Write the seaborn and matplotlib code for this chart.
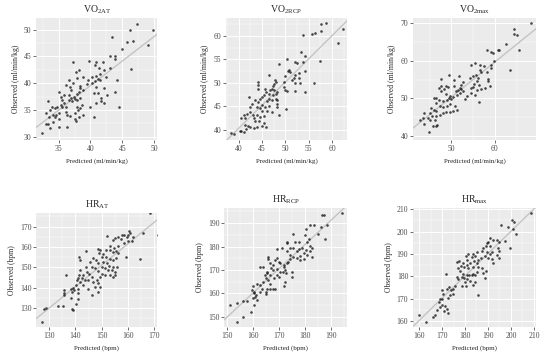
import matplotlib
matplotlib.use('Agg')
import matplotlib.pyplot as plt
from matplotlib.ticker import AutoMinorLocator, MultipleLocator
import seaborn as sns

# (predicted, observed) pairs, one list per panel
vo2at_points = [
    (47.3, 51.1), (49.8, 49.9), (46.2, 49.9), (46.7, 47.8), (45.8, 47.6), (49.1, 47.2),
    (43.4, 48.6), (44.9, 46.3), (43.8, 45.0), (43.8, 44.5), (43.0, 45.1), (41.9, 43.9),
    (43.0, 42.9), (46.3, 42.7), (40.9, 43.9), (39.8, 44.2), (40.7, 43.4), (41.3, 42.8),
    (42.1, 42.4), (42.4, 41.1), (41.5, 41.75), (40.9, 41.25), (41.2, 40.8), (41.5, 40.6),
    (40.7, 40.4), (40.2, 41.1), (40.2, 40.0), (39.6, 40.6), (39.4, 39.9), (40.9, 39.25),
    (40.5, 38.1), (42.1, 39.1), (42.6, 37.8), (44.2, 40.6), (43.9, 38.4), (44.5, 35.6),
    (42.1, 36.25), (41.6, 36.6), (40.8, 36.25), (40.0, 35.6), (40.5, 33.75), (37.2, 43.9),
    (38.2, 42.5), (37.8, 42.0), (38.8, 41.1), (37.9, 40.9), (36.6, 40.6), (36.1, 39.7),
    (37.3, 40.0), (36.8, 39.25), (38.4, 39.5), (38.4, 39.1), (38.8, 38.75), (38.2, 38.4),
    (37.9, 38.0), (37.0, 38.75), (36.7, 37.8), (37.4, 37.5), (37.6, 37.1), (37.0, 37.2),
    (36.6, 36.9), (37.1, 36.6), (37.9, 36.9), (38.4, 37.2), (38.7, 35.9), (38.4, 35.3),
    (38.1, 35.0), (37.6, 34.4), (35.8, 37.8), (35.3, 37.5), (35.0, 38.4), (35.5, 36.9),
    (35.8, 36.25), (35.3, 35.9), (34.8, 35.6), (35.5, 35.6), (36.1, 35.6), (34.5, 35.3),
    (35.0, 34.4), (34.6, 34.1), (34.5, 33.6), (35.0, 33.4), (34.2, 34.1), (34.0, 35.5),
    (33.3, 36.6), (33.7, 35.0), (33.1, 34.4), (33.5, 33.75), (34.2, 32.8), (33.4, 32.4),
    (33.0, 32.4), (33.6, 31.6), (32.4, 30.75), (35.0, 31.9), (36.3, 31.9), (36.8, 33.9),
    (37.6, 33.4), (37.8, 33.0), (38.2, 33.75), (38.9, 34.1), (37.9, 35.6), (36.1, 34.7),
    (36.3, 34.1), (41.2, 38.1), (41.7, 37.2),
]

vo2rcp_points = [
    (58.6, 62.7), (57.7, 62.4), (57.6, 61.1), (62.3, 61.4), (56.4, 60.6), (55.6, 60.4),
    (53.7, 60.1), (61.2, 58.4), (53.4, 56.5), (54.1, 55.8), (50.4, 55.0), (52.1, 54.5),
    (52.5, 54.3), (53.7, 54.5), (48.7, 54.0), (57.4, 54.7), (50.7, 52.7), (50.9, 52.4),
    (50.6, 52.6), (54.3, 52.5), (53.0, 52.1), (52.1, 51.6), (52.9, 51.1), (51.8, 51.1),
    (46.4, 51.6), (51.4, 50.6), (49.9, 51.4), (49.8, 50.2), (52.1, 50.0), (56.1, 50.0),
    (53.2, 50.0), (49.6, 49.1), (50.0, 48.4), (52.1, 48.3), (50.4, 48.3), (54.3, 48.1),
    (44.1, 50.2), (44.1, 49.6), (44.1, 48.8), (45.6, 48.8), (47.7, 50.7), (47.9, 50.2),
    (47.5, 49.7), (47.4, 49.3), (47.1, 48.8), (46.8, 48.6), (47.5, 48.4), (48.2, 48.1),
    (47.9, 47.7), (47.4, 47.5), (46.4, 47.7), (45.9, 48.1), (45.0, 47.0), (45.4, 47.4),
    (44.6, 46.6), (46.4, 46.6), (47.1, 46.3), (47.9, 46.6), (48.2, 46.3), (46.1, 46.1),
    (45.0, 45.4), (44.1, 45.9), (43.4, 46.3), (42.9, 45.6), (42.5, 44.9), (42.3, 47.0),
    (43.9, 44.9), (44.5, 44.7), (45.0, 44.1), (45.7, 44.9), (46.4, 45.0), (48.2, 44.9),
    (48.2, 45.6), (50.1, 44.4), (48.6, 43.1), (47.1, 43.8), (46.1, 44.1), (42.5, 43.8),
    (41.8, 43.4), (41.1, 43.1), (41.4, 42.6), (40.6, 42.6), (43.1, 43.1), (43.9, 43.1),
    (43.2, 42.5), (44.6, 42.7), (45.4, 42.9), (44.3, 42.0), (43.6, 41.9), (45.4, 41.4),
    (45.9, 40.7), (45.0, 40.9), (43.9, 40.7), (43.2, 40.4), (42.5, 40.7), (41.9, 40.9),
    (41.4, 41.1), (41.6, 40.2), (40.6, 39.9), (41.1, 39.5), (40.2, 39.9), (38.4, 39.4),
    (39.1, 39.1),
]

vo2max_points = [
    (68.2, 70.0), (64.4, 68.6), (64.5, 67.2), (65.0, 66.8), (62.5, 64.6), (65.6, 63.0),
    (58.1, 62.8), (59.2, 62.5), (59.6, 62.0), (60.6, 63.0), (61.0, 62.9), (63.5, 57.5),
    (59.8, 59.9), (59.0, 58.8), (59.0, 58.0), (55.4, 59.5), (54.6, 58.8), (56.5, 59.0),
    (57.5, 58.6), (56.5, 57.7), (56.9, 57.0), (58.1, 57.1), (58.5, 54.6), (58.8, 53.4),
    (58.5, 55.3), (57.7, 52.8), (56.2, 55.4), (55.6, 56.3), (55.0, 55.9), (54.2, 55.4),
    (55.8, 54.6), (55.2, 53.9), (56.4, 53.7), (56.7, 52.5), (55.8, 52.3), (55.0, 53.0),
    (54.4, 52.8), (55.4, 51.0), (56.3, 48.9), (54.6, 51.4), (53.5, 50.5), (53.1, 49.8),
    (52.2, 53.5), (51.9, 52.8), (51.5, 52.3), (51.0, 52.1), (52.3, 52.5), (52.7, 51.9),
    (51.9, 51.4), (51.2, 51.0), (49.5, 56.3), (47.7, 55.2), (50.5, 55.0), (48.8, 53.4),
    (47.7, 53.2), (47.2, 52.8), (48.2, 52.5), (49.2, 53.0), (50.6, 53.4), (47.7, 51.9),
    (48.7, 51.2), (49.6, 50.7), (49.5, 50.1), (50.0, 49.8), (50.4, 50.3), (49.0, 49.6),
    (48.1, 49.2), (47.2, 49.5), (46.5, 50.1), (45.9, 50.1), (46.4, 48.8), (47.3, 48.0),
    (48.1, 47.7), (49.0, 47.9), (49.8, 48.6), (50.8, 48.0), (51.3, 46.8), (50.4, 46.5),
    (49.6, 46.3), (48.7, 46.3), (48.1, 46.1), (47.3, 45.6), (46.5, 46.5), (45.9, 47.0),
    (45.4, 47.4), (45.0, 46.1), (45.5, 45.2), (46.4, 45.4), (44.6, 44.7), (45.1, 44.3),
    (46.2, 44.1), (46.7, 42.9), (45.8, 42.7), (46.5, 42.5), (43.8, 46.1), (43.5, 44.7),
    (42.7, 44.3), (43.8, 43.2), (44.8, 40.9), (51.8, 55.9), (52.7, 54.3),
]

hrat_points = [
    (168.5, 176.6), (171.5, 165.9), (165.5, 167.0), (157.6, 165.9), (158.6, 165.9),
    (160.1, 165.9), (157.2, 163.7), (155.1, 164.2), (160.1, 163.1), (158.5, 161.8),
    (161.4, 162.9), (161.8, 164.7), (160.5, 168.0), (160.8, 167.0), (159.5, 165.1),
    (159.2, 154.8), (164.5, 154.0), (156.3, 164.7), (154.4, 163.4), (151.9, 165.4),
    (153.2, 160.4), (154.7, 159.3), (153.2, 158.5), (151.6, 158.5), (154.2, 157.6),
    (155.4, 158.1), (156.3, 160.4), (156.1, 156.8), (155.4, 154.3), (154.4, 153.5),
    (153.2, 153.9), (151.6, 155.2), (150.4, 156.5), (149.4, 158.5), (148.4, 158.8),
    (149.1, 157.1), (150.0, 155.2), (150.6, 152.7), (151.9, 151.9), (152.9, 150.6),
    (154.4, 149.9), (155.7, 149.9), (155.1, 147.8), (153.9, 148.6), (152.5, 148.6),
    (151.3, 149.4), (150.0, 150.2), (148.7, 151.9), (147.7, 153.5), (146.8, 154.7),
    (145.6, 152.7), (146.2, 150.2), (147.5, 149.4), (148.7, 148.3), (150.0, 146.9),
    (151.3, 146.1), (153.2, 146.1), (155.1, 146.1), (154.4, 145.3), (149.4, 145.0),
    (148.1, 143.6), (146.2, 145.3), (145.3, 146.9), (144.1, 149.9), (144.3, 147.8),
    (143.0, 146.1), (142.4, 144.5), (143.7, 143.6), (144.9, 143.6), (146.8, 142.8),
    (148.7, 142.0), (147.5, 140.3), (149.4, 140.3), (148.7, 137.9), (146.2, 136.2),
    (144.6, 139.5), (143.0, 141.1), (141.8, 142.8), (141.1, 144.5), (141.5, 154.8),
    (141.8, 153.5), (141.8, 148.8), (141.5, 146.1), (144.1, 158.1), (140.5, 143.6),
    (140.3, 141.1), (140.8, 139.5), (139.5, 138.7), (139.2, 140.0), (138.2, 139.5),
    (138.6, 137.9), (140.8, 137.1), (138.2, 135.1), (141.1, 134.6), (140.3, 132.1),
    (138.6, 129.6), (139.2, 129.1), (135.8, 138.7), (135.8, 137.4), (135.8, 136.2),
    (136.3, 146.1), (133.5, 130.8), (135.2, 130.8), (128.1, 129.6), (128.7, 130.1),
    (127.2, 123.0),
]

hrrcp_points = [
    (194.2, 194.3), (187.2, 193.3), (186.5, 193.3), (183.6, 189.3), (182.1, 189.3),
    (188.5, 189.3), (186.2, 188.3), (184.9, 185.4), (187.8, 183.3), (180.5, 187.4),
    (180.1, 185.0), (175.6, 185.4), (177.6, 182.1), (176.3, 182.1), (180.8, 182.1),
    (181.4, 183.1), (182.1, 180.3), (182.7, 179.6), (182.1, 178.3), (180.5, 178.6),
    (178.8, 179.3), (177.9, 179.0), (176.9, 178.3), (175.6, 179.3), (174.4, 179.3),
    (173.1, 178.3), (173.1, 182.1), (173.3, 181.4), (171.2, 179.3), (169.2, 179.0),
    (174.4, 176.4), (175.6, 175.4), (176.9, 175.0), (178.2, 176.0), (179.7, 177.1),
    (180.8, 176.4), (182.7, 175.4), (179.5, 174.6), (178.2, 174.3), (174.4, 174.6),
    (173.7, 173.6), (173.1, 172.9), (172.1, 172.1), (171.8, 171.1), (172.4, 170.0),
    (171.5, 169.3), (172.8, 168.9), (174.9, 169.3), (174.9, 166.9), (172.4, 165.0),
    (172.1, 163.1), (170.5, 172.9), (169.9, 173.6), (169.2, 175.0), (168.6, 174.3),
    (167.7, 172.1), (166.7, 172.9), (166.0, 175.7), (165.8, 174.7), (166.9, 170.7),
    (167.9, 170.0), (169.2, 170.3), (170.5, 169.3), (169.2, 167.9), (169.9, 166.9),
    (168.2, 166.4), (166.7, 167.9), (165.4, 169.3), (165.6, 168.6), (164.7, 167.9),
    (165.1, 166.4), (166.0, 165.7), (166.7, 164.0), (167.7, 162.1), (168.6, 162.1),
    (166.7, 162.1), (165.4, 162.1), (165.1, 160.7), (165.1, 159.7), (164.1, 165.0),
    (164.1, 171.1), (162.6, 171.1), (163.5, 162.1), (162.8, 163.6), (161.5, 164.0),
    (162.6, 160.7), (161.3, 159.3), (160.5, 160.0), (160.3, 160.7), (159.6, 161.4),
    (161.0, 158.6), (161.8, 157.1), (160.0, 157.9), (160.0, 163.1), (160.3, 155.0),
    (159.2, 152.1), (157.7, 156.9), (156.4, 156.9), (151.3, 155.0), (153.8, 156.0),
    (156.4, 150.0), (154.1, 147.9),
]

hrmax_points = [
    (208.8, 208.2), (200.4, 205.2), (201.5, 204.2), (195.6, 203.0), (198.9, 201.9),
    (200.9, 201.0), (202.2, 199.0), (197.2, 195.8), (193.9, 196.3), (194.6, 195.5),
    (192.4, 196.3), (199.7, 192.8), (194.2, 192.5), (194.6, 191.5), (190.7, 197.0),
    (190.2, 195.5), (189.5, 194.8), (189.2, 193.6), (190.7, 193.6), (188.0, 192.5),
    (187.3, 191.5), (189.5, 191.0), (191.7, 191.0), (190.9, 190.0), (188.8, 189.1),
    (190.2, 188.1), (193.9, 189.6), (195.0, 188.1), (192.1, 185.8), (191.7, 187.6),
    (186.9, 188.1), (185.1, 191.0), (184.4, 189.1), (185.8, 187.3), (185.1, 186.1),
    (183.9, 187.0), (182.9, 188.5), (183.4, 190.0), (181.5, 190.0), (180.4, 189.1),
    (181.0, 187.3), (182.2, 185.8), (180.7, 185.1), (179.3, 186.1), (177.5, 187.0),
    (178.1, 184.6), (179.6, 184.0), (181.5, 183.6), (183.6, 184.0), (185.8, 184.0),
    (187.3, 183.6), (187.7, 181.6), (189.2, 182.5), (185.1, 182.1), (183.6, 181.3),
    (184.4, 180.6), (182.9, 180.6), (181.9, 180.6), (180.7, 180.6), (179.3, 181.3),
    (178.5, 179.9), (179.6, 179.1), (181.0, 178.7), (180.0, 177.6), (182.2, 178.1),
    (184.4, 177.6), (183.6, 176.1), (180.4, 175.7), (178.9, 175.7), (177.1, 178.7),
    (176.4, 179.9), (177.8, 182.5), (177.1, 183.6), (176.4, 186.6), (185.8, 171.6),
    (171.7, 180.9), (175.6, 175.7), (174.9, 174.6), (173.7, 173.9), (173.1, 175.1),
    (172.3, 174.6), (174.6, 172.4), (173.4, 171.6), (172.7, 170.6), (170.5, 172.4),
    (169.8, 173.9), (169.1, 170.1), (170.2, 170.1), (168.8, 168.7), (169.8, 167.2),
    (171.2, 166.7), (172.3, 165.7), (169.1, 166.4), (170.8, 164.6), (172.7, 163.7),
    (167.9, 164.9), (166.9, 162.7), (166.1, 161.9), (163.2, 159.7), (160.0, 162.7),
    (188.8, 179.5),
]

titles = [r'VO$_{\mathrm{2AT}}$', r'VO$_{\mathrm{2RCP}}$', r'VO$_{\mathrm{2max}}$',
          r'HR$_{\mathrm{AT}}$', r'HR$_{\mathrm{RCP}}$', r'HR$_{\mathrm{max}}$']
xlabels = ['Predicted (ml/min/kg)'] * 3 + ['Predicted (bpm)'] * 3
ylabels = ['Observed (ml/min/kg)'] * 3 + ['Observed (bpm)'] * 3

sns.set_theme(style='darkgrid', rc={'axes.facecolor': '#EBEBEB',
                                     'grid.color': 'white', 'grid.linewidth': 0.7})
plt.rcParams['font.family'] = ['Liberation Serif', 'DejaVu Serif']
plt.rcParams['mathtext.fontset'] = 'custom'
plt.rcParams['mathtext.rm'] = 'Liberation Serif'

fig = plt.figure(figsize=(5.5, 3.57), dpi=100)

# axes rect (fig fraction), limits, major tick steps
layout = [
    ([0.066, 0.608, 0.220, 0.342], (31.5, 50.5), (29.4, 52.2), 5, 5),
    ([0.411, 0.608, 0.220, 0.342], (37.3, 63.2), (37.9, 63.8), 5, 5),
    ([0.751, 0.608, 0.224, 0.342], (41.2, 69.5), (38.9, 71.5), 10, 10),
    ([0.066, 0.084, 0.220, 0.319], (125.1, 171.1), (120.6, 176.6), 10, 10),
    ([0.408, 0.084, 0.223, 0.333], (149.1, 196.2), (145.7, 196.4), 10, 10),
    ([0.751, 0.084, 0.224, 0.333], (157.4, 211.0), (157.5, 210.4), 10, 10),
]
datasets = [vo2at_points, vo2rcp_points, vo2max_points,
            hrat_points, hrrcp_points, hrmax_points]

for pts, (rect, xl, yl, xs, ys), title, xlab, ylab in zip(
        datasets, layout, titles, xlabels, ylabels):
    ax = fig.add_axes(rect)
    ax.set_xlim(xl)
    ax.set_ylim(yl)
    pred = [p[0] for p in pts]
    obs = [p[1] for p in pts]
    sns.regplot(x=pred, y=obs, ax=ax, ci=None, truncate=False,
                scatter_kws=dict(s=3.5, color='#1a1a1a', linewidths=0, zorder=3),
                line_kws=dict(color='#C4C4C4', lw=1, zorder=2))
    ax.set_xlim(xl)
    ax.set_ylim(yl)
    ax.xaxis.set_major_locator(MultipleLocator(xs))
    ax.yaxis.set_major_locator(MultipleLocator(ys))
    ax.xaxis.set_minor_locator(AutoMinorLocator(2))
    ax.yaxis.set_minor_locator(AutoMinorLocator(2))
    ax.grid(which='minor', color='white', lw=0.35)
    ax.tick_params(which='major', bottom=True, left=True, length=2, width=0.5,
                   color='#333333', labelsize=5.5, labelcolor='#4D4D4D', pad=1.5)
    ax.tick_params(which='minor', length=0)
    ax.set_title(title, fontsize=7, pad=4)
    ax.set_xlabel(xlab, fontsize=5, labelpad=4)
    ax.set_ylabel(ylab, fontsize=5.5, labelpad=3)
    for s in ax.spines.values():
        s.set_visible(False)

fig.savefig('out.png', dpi=100)
